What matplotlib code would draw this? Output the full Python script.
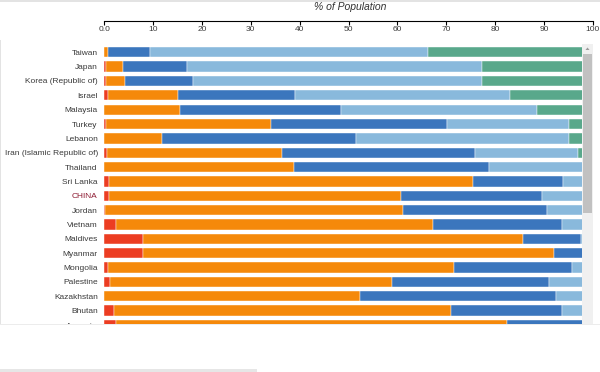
"""
Stacked horizontal bars: share of population per segment, by country.
Recreates a dashboard screenshot (header axis on top, scroll bar on the right).
"""
import numpy as np
import matplotlib
matplotlib.use('Agg')
import matplotlib.pyplot as plt
from matplotlib.patches import Rectangle, Polygon
from matplotlib.transforms import Bbox, TransformedBbox

plt.rcParams['font.family'] = ['Liberation Sans', 'DejaVu Sans']

countries = ['Taiwan', 'Japan', 'Korea (Republic of)', 'Israel', 'Malaysia', 'Turkey',
             'Lebanon', 'Iran (Islamic Republic of)', 'Thailand', 'Sri Lanka', 'CHINA',
             'Jordan', 'Vietnam', 'Maldives', 'Myanmar', 'Mongolia', 'Palestine',
             'Kazakhstan', 'Bhutan', 'Armenia']

# % of population in each segment (left to right)
seg_red = [0, 0.4, 0.4, 0.8, 0, 0.4, 0, 0.5, 0, 1.0,
           1.0, 0.2, 2.3, 8.0, 7.9, 0.8, 1.2, 0, 1.9, 2.3]
seg_orange = [0.8, 3.4, 3.8, 14.2, 15.4, 33.7, 11.8, 35.9, 38.8, 74.4,
              59.7, 61.0, 64.9, 77.7, 84.1, 70.9, 57.8, 52.3, 69.0, 80.2]
seg_darkblue = [8.6, 13.1, 13.9, 24.0, 33.1, 36.1, 39.7, 39.4, 40.0, 18.5,
                28.9, 29.5, 26.5, 12.0, 8.0, 24.1, 32.1, 40.2, 22.8, 17.5]
seg_lightblue = [56.9, 60.4, 59.2, 44.1, 40.1, 24.9, 43.7, 21.2, 21.2, 6.1,
                 10.4, 9.3, 6.3, 2.3, 0, 4.2, 8.9, 7.5, 6.3, 0]
seg_green = [33.7, 22.7, 22.7, 16.9, 11.4, 4.9, 4.8, 3.0, 0, 0,
             0, 0, 0, 0, 0, 0, 0, 0, 0, 0]

x_ticks = [0, 10, 20, 30, 40, 50, 60, 70, 80, 90, 100]
x_tick_labels = ['0.0', '10', '20', '30', '40', '50', '60', '70', '80', '90', '100']

COLORS = ['#ec3d22', '#f5890a', '#3b76bd', '#89b9dc', '#59a88b']
TEXT = '#3a3a3a'
W, H = 600, 372


def fx(x):
    return x / W


def fy(y):
    return 1 - y / H


fig = plt.figure(figsize=(6.0, 3.72), dpi=100)

# main pane
ax_left, ax_right = 104.3, 592.7
pane_top, pane_bot = 40, 325
ax = fig.add_axes([fx(ax_left), fy(pane_bot), fx(ax_right - ax_left), (pane_bot - pane_top) / H])

y = np.arange(len(countries))
left = np.zeros(len(countries))
for vals, col in zip([seg_red, seg_orange, seg_darkblue, seg_lightblue, seg_green], COLORS):
    vals = np.array(vals)
    ax.barh(y, vals, left=left, height=0.72, color=col, edgecolor='white', linewidth=0.3)
    left += vals

step = 14.4
ax.set_xlim(0, 100)
ax.set_ylim((pane_bot - 52.3) / step, -(52.3 - pane_top) / step)
for s in ax.spines.values():
    s.set_visible(False)
ax.set_xticks([])
ax.set_yticks(y)
ax.set_yticklabels(countries, fontsize=6, color=TEXT)
ax.tick_params(axis='y', length=0, pad=4.7)
clip = TransformedBbox(Bbox([[0, fy(pane_bot)], [1, fy(pane_top)]]), fig.transFigure)
for lab in ax.get_yticklabels():
    lab.set_clip_on(True)
    lab.set_clip_box(clip)
    if lab.get_text() == 'CHINA':
        lab.set_color('#8e1b32')

# header axis (line on top, ticks and labels underneath)
hdr = fig.add_axes([fx(ax_left), fy(20.7), fx(ax_right - ax_left), 2 / H])
hdr.set_xlim(0, 100)
hdr.set_yticks([])
for k in ['top', 'left', 'right']:
    hdr.spines[k].set_visible(False)
hdr.spines['bottom'].set_linewidth(0.8)
hdr.set_xticks(x_ticks)
hdr.set_xticklabels(x_tick_labels, fontsize=6, color=TEXT)
hdr.tick_params(axis='x', length=3, width=0.8, pad=1)
hdr.patch.set_visible(False)
fig.text(fx(350), fy(7), '% of Population', fontsize=7.5, style='italic',
         color='#333333', ha='center', va='center')

# window chrome: borders and scroll bar
def rect(x0, y0, x1, y1, color, z=5):
    fig.add_artist(Rectangle((fx(x0), fy(y1)), fx(x1 - x0), (y1 - y0) / H,
                             transform=fig.transFigure, facecolor=color,
                             edgecolor='none', zorder=z))

rect(0, 0, W, 1.5, '#e3e3e3')
rect(0, pane_top, 1.2, pane_bot - 1, '#e3e3e3')
rect(0, pane_bot - 1, W, pane_bot, '#ececec')
rect(0, 369, 257, H, '#e6e6e6')
rect(582.3, 43.5, 593, pane_bot - 1, '#f0f0f0')
rect(583, 54, 592, 213, '#c1c1c1')
fig.add_artist(Polygon([[fx(585.5), fy(50)], [fx(589.5), fy(50)], [fx(587.5), fy(47.5)]],
                       closed=True, transform=fig.transFigure, facecolor='#9a9a9a',
                       edgecolor='none', zorder=6))

fig.savefig('out.png', dpi=100)
